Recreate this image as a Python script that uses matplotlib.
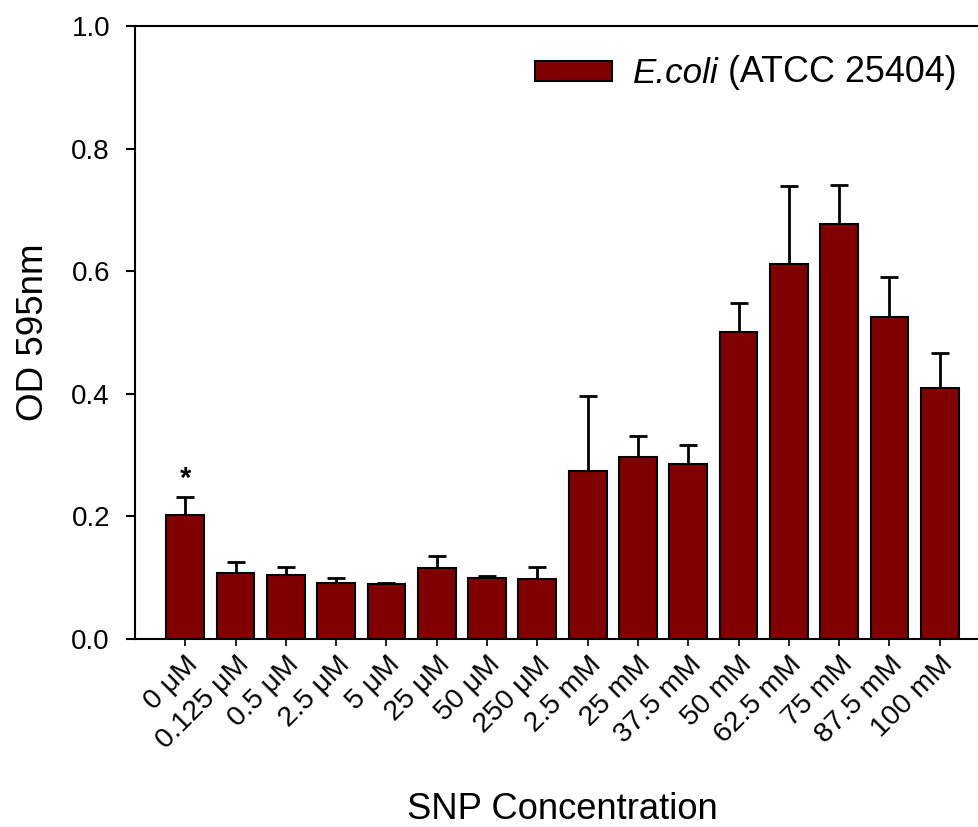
import matplotlib
matplotlib.use("Agg")
import matplotlib.pyplot as plt
from matplotlib.patches import Patch
import numpy as np

plt.rcParams['font.family'] = ['Liberation Sans', 'DejaVu Sans']

categories = ['0 μM', '0.125 μM', '0.5 μM', '2.5 μM', '5 μM', '25 μM', '50 μM',
              '250 μM', '2.5 mM', '25 mM', '37.5 mM', '50 mM', '62.5 mM',
              '75 mM', '87.5 mM', '100 mM']
od_mean = [0.202, 0.108, 0.104, 0.091, 0.089, 0.116, 0.100, 0.098,
           0.274, 0.297, 0.286, 0.501, 0.611, 0.677, 0.526, 0.410]
od_sem = [0.029, 0.017, 0.014, 0.008, 0.003, 0.020, 0.003, 0.020,
          0.123, 0.034, 0.030, 0.047, 0.128, 0.063, 0.065, 0.056]
y_ticks = [0.0, 0.2, 0.4, 0.6, 0.8, 1.0]
strain = 'E.coli'
strain_id = ' (ATCC 25404)'

BAR_COLOR = '#800000'

W, H = 979, 827
fig = plt.figure(figsize=(W / 100, H / 100), dpi=100)
left, right, top, bottom = 135, 990, 26, 639
ax = fig.add_axes([left / W, 1 - bottom / H, (right - left) / W, (bottom - top) / H])

x = np.arange(len(categories))
ax.bar(x, od_mean, width=0.75, color=BAR_COLOR, edgecolor='black',
       linewidth=1.5, zorder=3)
ax.errorbar(x, od_mean, yerr=[np.zeros(len(od_sem)), od_sem], fmt='none',
            ecolor='black', elinewidth=2, capsize=6.2, capthick=2, zorder=2)

# significance marker over the control
ax.text(x[0], od_mean[0] + od_sem[0] + 0.008, '*', ha='center', va='bottom',
        fontsize=21, fontweight='bold')

ax.set_xlim(-1, 16)
ax.set_ylim(0, 1.0)
ax.set_yticks(y_ticks)
ax.set_yticklabels([f'{v:.1f}' for v in y_ticks], fontsize=20)
ax.set_xticks(x)
ax.set_xticklabels(categories, rotation=45, ha='right', va='top',
                   rotation_mode='anchor', fontsize=20.5)

for s in ['left', 'bottom', 'top']:
    ax.spines[s].set_linewidth(1.5)
ax.spines['right'].set_visible(False)
ax.tick_params(axis='y', direction='out', length=6.5, width=1.5, pad=11.5)
ax.tick_params(axis='x', direction='out', length=5, width=1.2, pad=4)

ax.set_ylabel('OD 595nm', fontsize=26.5, labelpad=15)
ax.set_xlabel('SNP Concentration', fontsize=26.2, labelpad=27.5)

# legend: italic species name followed by the strain designation
handle = Patch(facecolor=BAR_COLOR, edgecolor='black', linewidth=1.5)
leg = ax.legend([handle], [strain], loc='center left',
                bbox_to_anchor=(0.468, 0.922), frameon=False,
                prop={'size': 25.2, 'style': 'italic'}, handlelength=2.2,
                handleheight=0.52, handletextpad=0.58, borderpad=0,
                borderaxespad=0)
ax.annotate(strain_id, xy=(1, 0), xycoords=leg.get_texts()[0],
            ha='left', va='bottom', fontsize=25.8, zorder=leg.get_zorder() + 1)

fig.savefig('out.png', dpi=100)
